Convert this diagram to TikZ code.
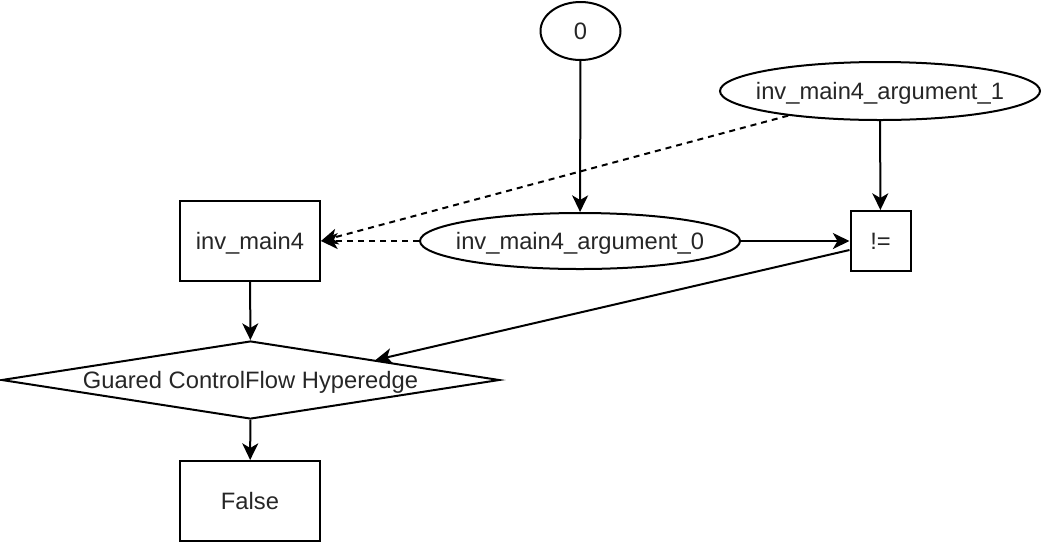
\documentclass[tikz,border=0pt]{standalone}
\usepackage{fontspec}
\setmainfont{Liberation Sans}
\usetikzlibrary{shapes.geometric,arrows.meta}
\begin{document}
\begin{tikzpicture}[x=0.75pt,y=-0.75pt,
  every node/.style={font=\fontsize{17.8}{21}\selectfont, text=black!85, inner sep=0pt},
  txt/.style={text height=12.8pt, text depth=0pt},
  ell/.style={ellipse, draw, line width=1.5pt, minimum height=43.5pt},
  box/.style={rectangle, draw, line width=1.5pt},
  diam/.style={diamond, draw, line width=1.5pt, minimum width=373.5pt, minimum height=58.5pt},
  conn/.style={line width=1.5pt, -{Stealth[length=12.5pt,width=12pt,inset=3.5pt]}},
  dconn/.style={conn, dash pattern=on 4.5pt off 3.75pt}
]
\useasboundingbox (0,0) rectangle (1042,544);
\node[ell, minimum width=60pt, label={[txt]center:0}] (zero) at (580.5,31) {};
\node[ell, minimum width=240pt, label={[txt]center:inv\_main4\_argument\_1}] (arg1) at (880,91) {};
\node[ell, minimum width=240pt, minimum height=42pt, label={[txt]center:inv\_main4\_argument\_0}] (arg0) at (580,241) {};
\node[box, minimum width=105pt, minimum height=60pt, label={[txt]center:inv\_main4}] (inv) at (250,241) {};
\node[box, minimum width=45pt, minimum height=45pt, label={[txt]center:!=}] (ne) at (880.5,241) {};
\node[diam, label={[txt]center:Guared ControlFlow Hyperedge}] (g) at (250.5,380) {};
\node[box, minimum width=105pt, minimum height=60pt, label={[txt]center:False}] (false) at (250,501) {};
\draw[conn] (zero) -- (arg0);
\draw[conn] (arg1) -- (ne);
\draw[conn] (arg0) -- (ne);
\draw[dconn] (arg0) -- (inv);
\draw[dconn] (arg1) -- (inv.east);
\draw[conn] ([yshift=-6.75pt]ne.west) -- (g.north east);
\draw[conn] (inv) -- (g);
\draw[conn] (g) -- (false);
\end{tikzpicture}
\end{document}
